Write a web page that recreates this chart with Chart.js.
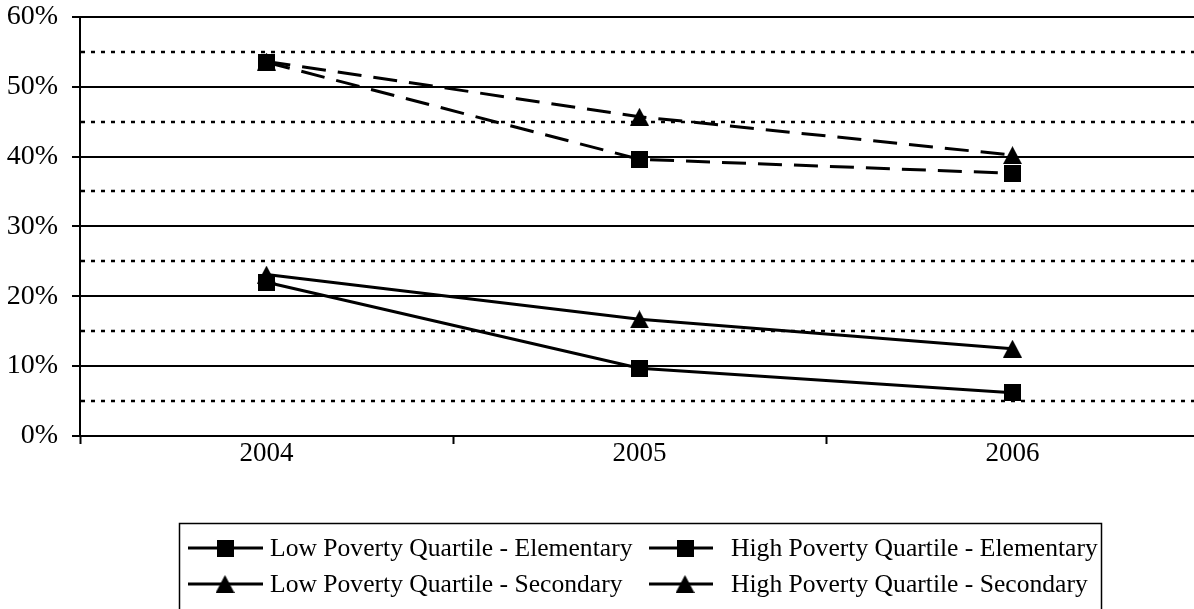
<!DOCTYPE html>
<html>
<head>
<meta charset="utf-8">
<script src="https://cdn.jsdelivr.net/npm/chart.js@4.4.1/dist/chart.umd.min.js"></script>
<style>
  html, body { margin: 0; padding: 0; background: #fff; overflow: hidden; }
  #wrap { position: relative; width: 1210px; height: 609px; }
</style>
</head>
<body>
<div id="wrap"><canvas id="c"></canvas></div>
<script>
// Share of schools (percent) by year
const years = ['2004', '2005', '2006'];
const lowElementary  = [22.0, 9.7, 6.2];
const highElementary = [53.5, 39.6, 37.6];
const lowSecondary   = [23.1, 16.7, 12.5];
const highSecondary  = [53.6, 45.7, 40.2];
const seriesNames = [
  'Low Poverty Quartile - Elementary',
  'High Poverty Quartile - Elementary',
  'Low Poverty Quartile - Secondary',
  'High Poverty Quartile - Secondary'
];
const yMin = 0, yMax = 60, yStep = 10;
const minorGridValues = [5, 15, 25, 35, 45, 55];

const FONT = 'Liberation Serif';

// Solid black marker shapes
function squareMarker() {
  const c = document.createElement('canvas');
  c.width = 17; c.height = 17;
  const g = c.getContext('2d');
  g.fillStyle = '#000';
  g.fillRect(0, 0, 17, 17);
  return c;
}
function triangleMarker() {
  const c = document.createElement('canvas');
  c.width = 19; c.height = 18;
  const g = c.getContext('2d');
  g.fillStyle = '#000';
  g.beginPath();
  g.moveTo(9.5, 0); g.lineTo(19, 18); g.lineTo(0, 18);
  g.closePath(); g.fill();
  return c;
}
const SQUARE = squareMarker();
const TRIANGLE = triangleMarker();
const DASH = [24, 12];

function series(label, data, marker, dash) {
  return {
    label, data,
    borderColor: '#000', backgroundColor: '#000',
    borderWidth: 3, borderDash: dash, tension: 0,
    pointStyle: marker, pointRadius: 8, pointHoverRadius: 8,
    fill: false
  };
}

// Dotted lines halfway between the major gridlines
const minorGrid = {
  id: 'minorGrid',
  beforeDatasetsDraw(chart) {
    const { ctx, chartArea, scales } = chart;
    ctx.save();
    ctx.strokeStyle = '#000';
    ctx.lineWidth = 2.5;
    ctx.setLineDash([4, 6]);
    minorGridValues.forEach(v => {
      const y = Math.round(scales.y.getPixelForValue(v));
      ctx.beginPath();
      ctx.moveTo(chartArea.left + 1, y);
      ctx.lineTo(chartArea.right, y);
      ctx.stroke();
    });
    ctx.restore();
  }
};

// Boxed two-column legend with line + marker samples
const boxLegend = {
  id: 'boxLegend',
  afterDraw(chart) {
    const ctx = chart.ctx;
    ctx.save();
    ctx.strokeStyle = '#000';
    ctx.lineWidth = 1.5;
    ctx.setLineDash([]);
    ctx.strokeRect(179.5, 523.5, 922, 100);
    const cols = [
      { x0: 188, x1: 263, m: 225, t: 270 },
      { x0: 649, x1: 713, m: 685, t: 731 }
    ];
    const rows = [548, 584];
    chart.data.datasets.forEach((ds, i) => {
      const col = cols[i % 2];
      const y = rows[Math.floor(i / 2)];
      ctx.lineWidth = 3;
      ctx.beginPath();
      ctx.moveTo(col.x0, y); ctx.lineTo(col.x1, y);
      ctx.stroke();
      const img = ds.pointStyle;
      ctx.drawImage(img, col.m - img.width / 2, y - img.height / 2);
      ctx.fillStyle = '#000';
      ctx.font = '25.6px "' + FONT + '"';
      ctx.textBaseline = 'alphabetic';
      ctx.textAlign = 'left';
      ctx.fillText(ds.label, col.t, y + 8);
    });
    ctx.restore();
  }
};

new Chart(document.getElementById('c'), {
  type: 'line',
  data: {
    labels: years,
    datasets: [
      series(seriesNames[0], lowElementary, SQUARE, []),
      series(seriesNames[1], highElementary, SQUARE, DASH),
      series(seriesNames[2], lowSecondary, TRIANGLE, []),
      series(seriesNames[3], highSecondary, TRIANGLE, DASH)
    ]
  },
  options: {
    responsive: true,
    maintainAspectRatio: false,
    animation: false,
    layout: { padding: { top: 15, right: 5, left: 0, bottom: 0 } },
    plugins: { legend: { display: false }, tooltip: { enabled: false } },
    scales: {
      x: {
        type: 'category',
        offset: true,
        grid: {
          offset: true, drawOnChartArea: false, drawTicks: true,
          tickLength: 8, tickColor: '#000', tickWidth: 2
        },
        border: { color: '#000', width: 2 },
        ticks: {
          color: '#000', padding: -4,
          font: { family: FONT, size: 27, lineHeight: 1 },
          maxRotation: 0
        },
        afterFit(s) { s.height = 173; }
      },
      y: {
        min: yMin, max: yMax,
        ticks: {
          stepSize: yStep, color: '#000', padding: 14,
          font: { family: FONT, size: 28, lineHeight: 0.2 },
          callback: v => v + '%'
        },
        grid: {
          color: '#000', lineWidth: 2, tickLength: 8,
          tickColor: '#000', tickWidth: 2
        },
        border: { color: '#000', width: 2 },
        afterFit(s) { s.width = 80; }
      }
    }
  },
  plugins: [minorGrid, boxLegend]
});
</script>
</body>
</html>
